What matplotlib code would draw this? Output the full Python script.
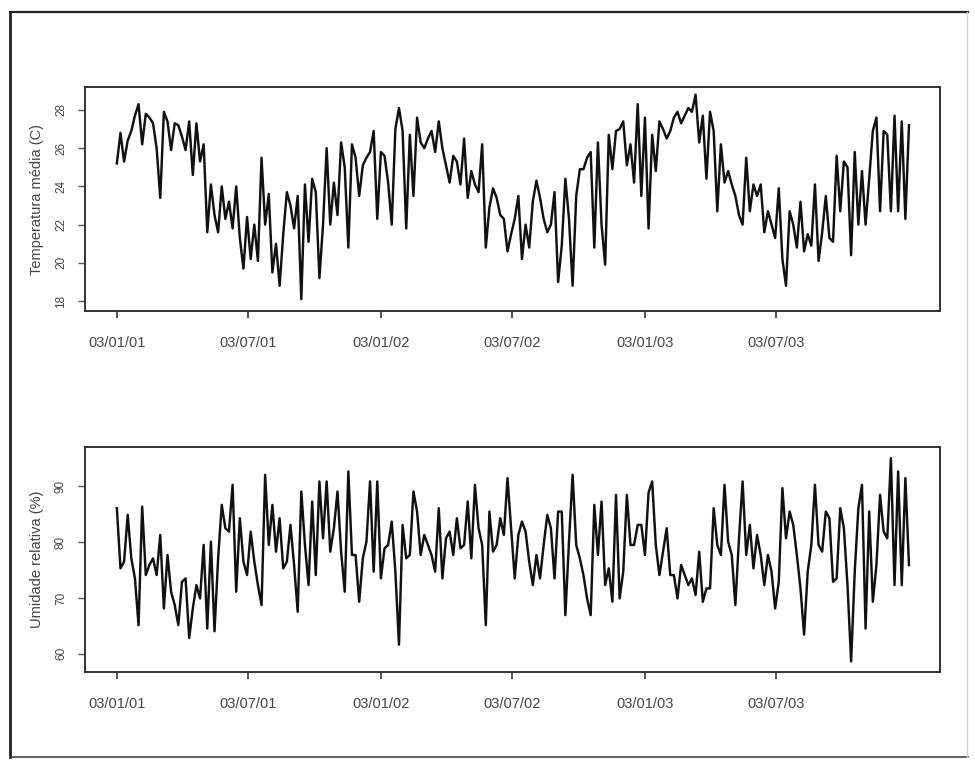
import matplotlib
matplotlib.use("Agg")
import matplotlib.pyplot as plt
import matplotlib.dates as mdates
import pandas as pd

# valores, um a cada 5 dias a partir de 03/01/2001
temperatura = [
    25.2, 26.8, 25.3, 26.4, 26.9, 27.7, 28.3, 26.2, 27.8, 27.6,
    27.3, 26.0, 23.4, 27.9, 27.4, 25.9, 27.3, 27.2, 26.6, 25.9,
    27.4, 24.6, 27.3, 25.3, 26.2, 21.6, 24.1, 22.5, 21.6, 24.0,
    22.3, 23.2, 21.8, 24.0, 21.3, 19.7, 22.4, 20.2, 22.0, 20.1,
    25.5, 22.0, 23.6, 19.5, 21.0, 18.8, 21.5, 23.7, 23.0, 21.8,
    23.5,
    18.1, 24.1, 21.1, 24.4, 23.7, 19.2, 22.0, 26.0, 22.0, 24.2,
    22.5, 26.3, 25.0, 20.8, 26.2, 25.5, 23.5, 25.1, 25.5, 25.8,
    26.9, 22.3, 25.8, 25.6, 24.2, 22.0, 27.0, 28.1, 26.9, 21.8,
    26.7, 23.5, 27.6, 26.3, 26.0, 26.5, 26.9, 25.8, 27.4, 26.0,
    25.1, 24.2, 25.6, 25.3, 24.1, 26.5, 23.4, 24.8, 24.1, 23.7,
    26.2, 20.8, 22.9, 23.9, 23.4, 22.5, 22.3, 20.6,
    21.5, 22.3, 23.5, 20.2, 22.0, 20.8, 23.2, 24.3, 23.4, 22.3,
    21.6, 22.0, 23.7, 19.0, 20.9, 24.4, 22.3, 18.8, 23.5, 24.9,
    24.9, 25.5, 25.8, 20.8, 26.3, 22.0, 19.9, 26.7, 24.9, 26.9,
    27.0, 27.4, 25.1, 26.2, 24.2, 28.3, 23.5, 27.6, 21.8, 26.7,
    24.8, 27.4, 27.0, 26.5, 26.9, 27.6, 27.9, 27.3, 27.7, 28.1,
    27.9, 28.8, 26.3, 27.7, 24.4, 27.9, 26.9, 22.7,
    26.2, 24.2, 24.8, 24.1, 23.5, 22.5, 22.0, 25.5, 22.7, 24.1,
    23.5, 24.1, 21.6, 22.7, 22.0, 21.3, 23.9, 20.2, 18.8, 22.7,
    22.0, 20.8, 23.2, 20.6, 21.5, 20.9, 24.1, 20.1, 21.6, 23.5,
    21.3, 21.1, 25.6, 22.7, 25.3, 25.0, 20.4, 25.8, 22.0, 24.8,
    22.0, 24.4, 26.9, 27.6, 22.7, 26.9, 26.7, 22.7, 27.7, 22.7,
    27.4, 22.3, 27.2,
]

umidade = [
    86.1, 75.3, 76.5, 84.9, 77.1, 73.5, 65.1, 86.4, 74.1, 75.9,
    77.1, 74.1, 81.3, 68.1, 77.7, 71.1, 68.7, 65.1, 72.9, 73.5,
    62.8, 68.1, 72.3, 69.9, 79.5, 64.5, 80.1, 64.0, 77.1, 86.7,
    82.5, 81.9, 90.3, 71.1, 84.3, 76.5, 74.1, 81.9, 76.5, 72.3,
    68.7, 92.1, 79.5, 86.7, 78.3, 84.3, 75.3, 76.5, 83.1, 75.9,
    67.5,
    89.1, 79.5, 72.3, 87.3, 74.1, 90.9, 80.7, 90.9, 78.3, 82.5,
    89.1, 78.3, 71.1, 92.7, 77.7, 77.7, 69.3, 77.1, 80.1, 90.9,
    74.7, 90.9, 73.5, 78.9, 79.5, 83.7, 74.7, 61.6, 83.1, 77.1,
    77.7, 89.1, 85.5, 77.7, 81.3, 79.5, 77.7, 74.7, 86.1, 73.5,
    80.7, 81.9, 77.7, 84.3, 78.9, 79.5, 87.3, 77.1, 90.3, 82.5,
    79.5, 65.1, 85.5, 78.3, 79.5, 84.3, 81.3, 91.5,
    82.5, 73.5, 81.3, 83.7, 81.9, 76.5, 72.3, 77.7, 73.5, 79.5,
    84.9, 82.5, 73.5, 85.5, 85.5, 66.9, 80.1, 92.1, 79.5, 77.1,
    74.1, 69.9, 66.9, 86.7, 77.7, 87.3, 72.3, 75.3, 69.3, 88.5,
    69.9, 74.7, 88.5, 79.5, 79.5, 83.1, 83.1, 77.7, 88.9, 90.9,
    79.5, 74.1, 78.3, 82.5, 74.1, 74.1, 69.9, 75.9, 74.1, 72.3,
    73.5, 70.5, 78.3, 69.3, 71.7, 71.7, 86.1, 79.5,
    77.7, 90.3, 80.1, 77.7, 68.7, 80.7, 90.9, 77.7, 83.1, 75.3,
    81.3, 77.7, 72.3, 77.7, 74.7, 68.1, 72.9, 89.7, 80.7, 85.5,
    83.1, 77.7, 71.7, 63.4, 74.7, 79.5, 90.3, 79.5, 78.3, 85.5,
    84.3, 72.9, 73.5, 86.1, 82.5, 72.3, 58.6, 74.7, 86.1, 90.3,
    64.5, 85.5, 69.3, 75.9, 88.5, 81.9, 80.7, 95.1, 72.3, 92.7,
    72.3, 91.5, 75.9,
]

datas = pd.date_range("2001-01-03", periods=len(temperatura), freq="5D")
ticks_x = pd.to_datetime(["2001-01-03", "2001-07-03", "2002-01-03",
                          "2002-07-03", "2003-01-03", "2003-07-03"])
ticks_temp = [18, 20, 22, 24, 26, 28]
ticks_umid = [60, 70, 80, 90]

plt.rcParams["font.family"] = ["Liberation Sans", "DejaVu Sans"]

fig = plt.figure(figsize=(9.75, 7.61), dpi=100)

# moldura externa (scan)
fig.add_artist(plt.Line2D([0.0105, 0.0105], [0.005, 0.984], color="#222222", lw=2.0))
fig.add_artist(plt.Line2D([0.0105, 0.993], [0.984, 0.984], color="#222222", lw=1.6))
fig.add_artist(plt.Line2D([0.0105, 0.993], [0.005, 0.005], color="#444444", lw=1.2))
fig.add_artist(plt.Line2D([0.992, 0.992], [0.005, 0.984], color="#cfcfcf", lw=1.0))

x0 = pd.Timestamp("2001-01-03")
xlim = (x0 - pd.Timedelta(days=44), x0 + pd.Timedelta(days=1138))

def painel(rect, serie, ylim, yticks, ylabel):
    ax = fig.add_axes(rect)
    ax.plot(datas, serie, color="#111111", lw=1.75)
    ax.set_xlim(xlim)
    ax.set_ylim(ylim)
    ax.set_xticks(ticks_x)
    ax.xaxis.set_major_formatter(mdates.DateFormatter("%d/%m/%y"))
    ax.set_yticks(yticks)
    ax.set_yticklabels([str(v) for v in yticks], rotation=90, va="center")
    ax.tick_params(axis="x", length=5, width=1.2, pad=13, labelsize=10.5,
                   labelcolor="#444444", color="#333333")
    ax.tick_params(axis="y", length=5, width=1.0, pad=8, labelsize=8.5,
                   labelcolor="#444444", color="#555555")
    ax.set_ylabel(ylabel, fontsize=10.5, color="#444444", labelpad=8)
    for s in ax.spines.values():
        s.set_color("#333333")
        s.set_linewidth(1.4)
    return ax

painel([0.0872, 0.5913, 0.877, 0.2944], temperatura, (17.48, 29.2),
       ticks_temp, "Temperatura média (C)")
painel([0.0872, 0.117, 0.877, 0.2957], umidade, (56.7, 97.1),
       ticks_umid, "Umidade relativa (%)")

fig.savefig("out.png", dpi=100)
plt.close(fig)
